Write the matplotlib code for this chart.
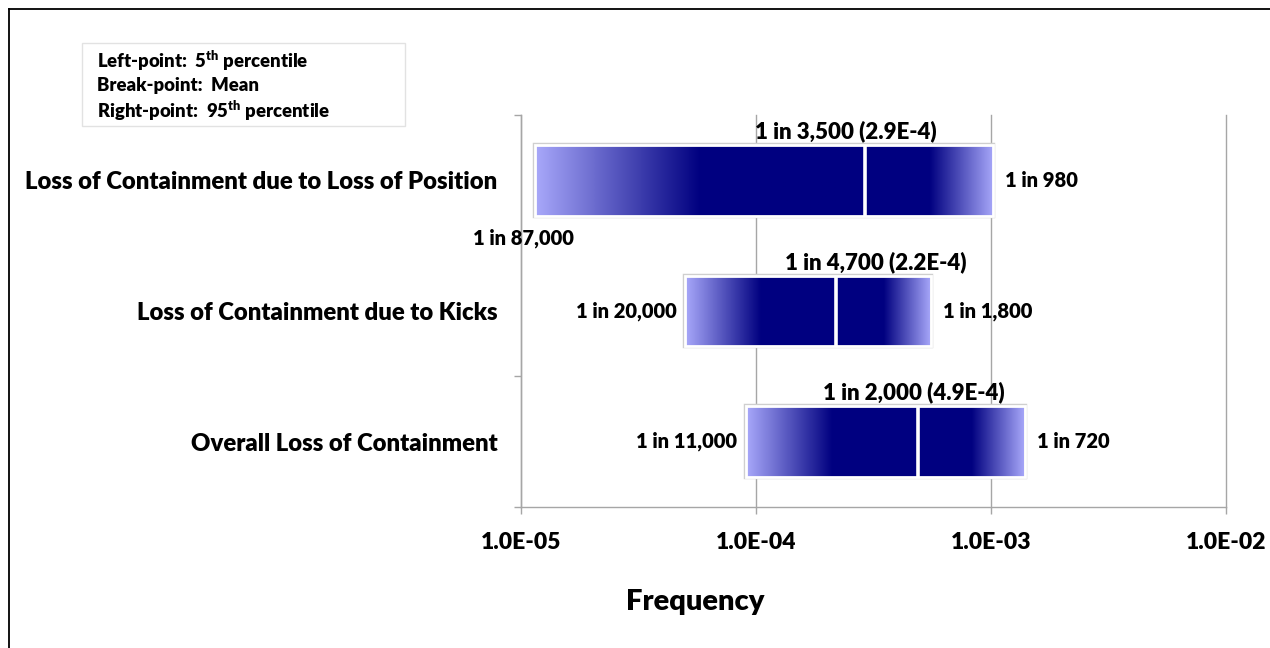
import matplotlib

matplotlib.use("Agg")
import matplotlib.pyplot as plt
import numpy as np
from matplotlib.colors import to_rgb
from matplotlib.lines import Line2D
from matplotlib.patches import Rectangle
from matplotlib.ticker import FixedLocator, FuncFormatter

plt.rcParams["font.family"] = ["Lato", "DejaVu Sans"]
plt.rcParams["font.weight"] = "heavy"
plt.rcParams["mathtext.fontset"] = "custom"
plt.rcParams["mathtext.bf"] = "Lato:heavy"
plt.rcParams["mathtext.rm"] = "Lato:heavy"

# --- data -------------------------------------------------------------
categories = [
    "Loss of Containment due to Loss of Position",
    "Loss of Containment due to Kicks",
    "Overall Loss of Containment",
]
p05 = [1 / 87000, 1 / 20000, 1 / 11000]
mean = [2.9e-4, 2.2e-4, 4.9e-4]
p95 = [1 / 980, 1 / 1800, 1 / 720]
left_labels = ["1 in 87,000", "1 in 20,000", "1 in 11,000"]
right_labels = ["1 in 980", "1 in 1,800", "1 in 720"]
mean_labels = ["1 in 3,500 (2.9E-4)", "1 in 4,700 (2.2E-4)", "1 in 2,000 (4.9E-4)"]
xticks = [1e-5, 1e-4, 1e-3, 1e-2]

# --- style ------------------------------------------------------------
NAVY = np.array(to_rgb("#000080"))
LIGHT = np.array(to_rgb("#a8a8fa"))
GRID = "#a6a6a6"
BAR_H = 0.54
W, H, DPI = 1270, 648, 100


def gradient(lo, hi, reverse=False, n=4096, frac=0.5):
    """Light -> navy over the outer `frac` of a segment (in log space)."""
    x = np.linspace(lo, hi, n)  # imshow samples linearly in data units
    t = (np.log10(x) - np.log10(lo)) / (np.log10(hi) - np.log10(lo))
    if reverse:
        t = 1 - t
    t = np.clip(t / frac, 0, 1)
    rgb = LIGHT[None, :] * (1 - t[:, None]) + NAVY[None, :] * t[:, None]
    return rgb[None, :, :]


fig = plt.figure(figsize=(W / DPI, H / DPI), dpi=DPI, facecolor="white")
ax = fig.add_axes([521 / W, 1 - 507 / H, (1226 - 521) / W, (507 - 115) / H])

ax.set_xscale("log")
ax.set_xlim(xticks[0], xticks[-1])
ax.set_ylim(len(categories) - 0.5, -0.5)

for i in range(len(categories)):
    lo, mid, hi = p05[i], mean[i], p95[i]
    y0, y1 = i - BAR_H / 2, i + BAR_H / 2
    # grey outline, gradient fill, white edge
    ax.add_patch(Rectangle((lo, y0), hi - lo, BAR_H, facecolor="none",
                           edgecolor="#cfcfcf", lw=3.2, zorder=3))
    ax.imshow(gradient(lo, mid), extent=(lo, mid, y1, y0), aspect="auto",
              interpolation="bilinear", zorder=4)
    ax.imshow(gradient(mid, hi, reverse=True), extent=(mid, hi, y1, y0),
              aspect="auto", interpolation="bilinear", zorder=4)
    ax.add_patch(Rectangle((lo, y0), hi - lo, BAR_H, facecolor="none",
                           edgecolor="white", lw=2.0, zorder=5))
    ax.plot([mid, mid], [y0, y1], color="white", lw=2.6, zorder=6,
            solid_capstyle="butt")

# value labels
mean_dx = [-19, 39, -4]
for i in range(len(categories)):
    y0 = i - BAR_H / 2
    ax.annotate(mean_labels[i], (mean[i], y0), xytext=(mean_dx[i], 3),
                textcoords="offset pixels", ha="center", va="bottom",
                fontsize=16, zorder=7)
    ax.annotate(right_labels[i], (p95[i], i), xytext=(12, 0),
                textcoords="offset pixels", ha="left", va="center",
                fontsize=14.5, zorder=7)
    if i == 0:
        ax.annotate(left_labels[i], (p05[i], i + BAR_H / 2),
                    xytext=(-12, -23), textcoords="offset pixels",
                    ha="center", va="center", fontsize=14.5, zorder=7)
    else:
        ax.annotate(left_labels[i], (p05[i], i), xytext=(-9, 0),
                    textcoords="offset pixels", ha="right", va="center",
                    fontsize=14.5, zorder=7)

# axes cosmetics
ax.xaxis.set_major_locator(FixedLocator(xticks))
ax.xaxis.set_minor_locator(FixedLocator([]))
ax.xaxis.set_major_formatter(FuncFormatter(lambda v, _: f"{v:.1E}"))
ax.tick_params(axis="x", which="major", direction="out", length=5, width=1,
               color=GRID, pad=13, labelsize=16.5)
ax.grid(axis="x", which="major", color=GRID, lw=1, zorder=0)
for gl in ax.get_xgridlines():
    gl.set_clip_on(False)
ax.set_axisbelow(True)

ax.yaxis.set_major_locator(FixedLocator([-0.5, 1.5, 2.5]))
ax.yaxis.set_major_formatter(FuncFormatter(lambda v, _: ""))
ax.yaxis.set_minor_locator(FixedLocator(range(len(categories))))
ax.set_yticklabels(categories, minor=True)
ax.tick_params(axis="y", which="major", direction="out", length=5, width=1,
               color=GRID)
ax.tick_params(axis="y", which="minor", length=0, pad=17, labelsize=17.2)

for side in ("top", "right"):
    ax.spines[side].set_visible(False)
for side in ("left", "bottom"):
    ax.spines[side].set_color(GRID)
    ax.spines[side].set_linewidth(1)

fig.text(695 / W, 1 - 602 / H, "Frequency", ha="center", va="center",
         fontsize=21)

# legend box
fig.patches.append(Rectangle((82 / W, 1 - 126 / H), (405 - 82) / W, (126 - 43) / H,
                             transform=fig.transFigure, facecolor="white",
                             edgecolor="#e2e2e2", lw=1))
legend_lines = [
    r"Left-point:  5$^{\mathbf{th}}$ percentile",
    "Break-point:  Mean",
    r"Right-point:  95$^{\mathbf{th}}$ percentile",
]
for k, line in enumerate(legend_lines):
    fig.text(97 / W, 1 - (61 + 25 * k) / H, line, ha="left", va="center",
             fontsize=13.3)

# outer frame (top and left edges only visible)
fig.add_artist(Line2D([9 / W, 1], [1 - 9 / H, 1 - 9 / H], color="black", lw=1.3,
                      transform=fig.transFigure))
fig.add_artist(Line2D([9 / W, 9 / W], [0, 1 - 9 / H], color="black", lw=1.3,
                      transform=fig.transFigure))

fig.savefig("out.png", dpi=DPI, facecolor="white")
